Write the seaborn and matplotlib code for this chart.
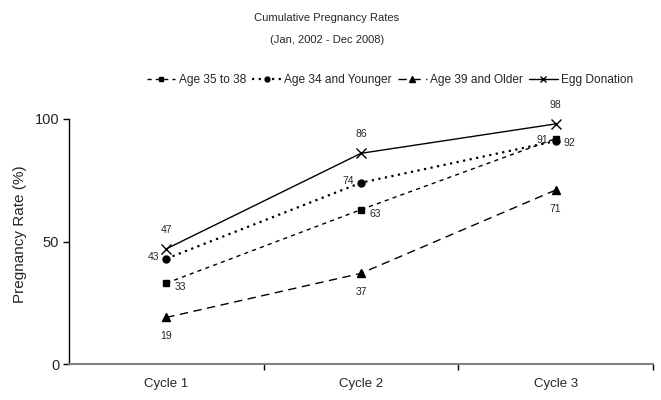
import matplotlib
matplotlib.use("Agg")
import matplotlib.pyplot as plt
from matplotlib import font_manager
from matplotlib.lines import Line2D
import seaborn as sns
import pandas as pd

cycles = ["Cycle 1", "Cycle 2", "Cycle 3"]
age_35_38 = [33, 63, 92]
age_34_younger = [43, 74, 91]
age_39_older = [19, 37, 71]
egg_donation = [47, 86, 98]
y_ticks = [0, 50, 100]

sns.set_theme(style="white")
names = {f.name for f in font_manager.fontManager.ttflist}
fam = "Liberation Sans Narrow" if "Liberation Sans Narrow" in names else "Liberation Sans"
plt.rcParams["font.family"] = [fam, "DejaVu Sans"]

fig = plt.figure(figsize=(6.61, 4.0), dpi=100)
ax = fig.add_axes([69/661, 1-364/400, (653-69)/661, (364-119)/400])

series = [
    ("Age 35 to 38", age_35_38, (0, (3, 3)), "s", 5.0, 1.0, "right"),
    ("Age 34 and Younger", age_34_younger, (0, (1, 2)), "o", 5.0, 1.6, "left"),
    ("Age 39 and Older", age_39_older, (0, (6, 4)), "^", 6.0, 1.0, "below"),
    ("Egg Donation", egg_donation, "-", "x", 6.5, 1.0, "above"),
]

handles = []
for name, vals, ls, mk, ms, lw, pos in series:
    df = pd.DataFrame({"cycle": cycles, "rate": vals})
    sns.lineplot(data=df, x="cycle", y="rate", ax=ax, color="black", linestyle=ls,
                 linewidth=lw, marker=mk, markersize=ms, markeredgecolor="black",
                 markerfacecolor="black", markeredgewidth=1.0, sort=False)
    for i, v in enumerate(vals):
        if pos == "right":
            ax.annotate(str(v), (i, v), xytext=(6, -3), textcoords="offset points",
                        ha="left", va="center", fontsize=7.5)
        elif pos == "left":
            ax.annotate(str(v), (i, v), xytext=(-5, 1), textcoords="offset points",
                        ha="right", va="center", fontsize=7.5)
        elif pos == "below":
            ax.annotate(str(v), (i, v), xytext=(0, -10), textcoords="offset points",
                        ha="center", va="top", fontsize=7.5)
        else:
            ax.annotate(str(v), (i, v), xytext=(0, 10), textcoords="offset points",
                        ha="center", va="bottom", fontsize=7.5)
    handles.append(Line2D([], [], color="black", linestyle=ls, linewidth=lw, marker=mk,
                          markersize=ms-1.5, markeredgecolor="black", markerfacecolor="black"))

ax.set_xlim(-0.5, 2.5)
ax.set_ylim(0, 100)
ax.set_yticks(y_ticks)
ax.set_yticklabels([str(t) for t in y_ticks], fontsize=10.5)
ax.set_xticks(range(len(cycles)))
ax.set_xticklabels(cycles, fontsize=9.5)
ax.set_xticks([0.5, 1.5, 2.5], minor=True)
ax.tick_params(axis="x", which="major", length=0, pad=10)
ax.tick_params(axis="x", which="minor", length=4, width=1, color="black", direction="out", bottom=True)
ax.tick_params(axis="y", length=4, width=1, color="black", direction="out", left=True, pad=3)
ax.set_xlabel("")
ax.set_ylabel("Pregnancy Rate (%)", fontsize=11)
ax.yaxis.set_label_coords(-0.072, 0.53)

for s in ["top", "right"]:
    ax.spines[s].set_visible(False)
ax.spines["left"].set_color("black")
ax.spines["left"].set_linewidth(1.0)
ax.spines["bottom"].set_color("#808080")
ax.spines["bottom"].set_linewidth(1.5)
ax.grid(False)

fig.text(327/661, 1-18/400, "Cumulative Pregnancy Rates", ha="center", va="center", fontsize=8)
fig.text(327/661, 1-40/400, "(Jan, 2002 - Dec 2008)", ha="center", va="center", fontsize=8)

fig.legend(handles, [s[0] for s in series], loc="center", bbox_to_anchor=(390/661, 1-80/400),
           ncol=4, frameon=False, fontsize=8.6, handlelength=2.4, handletextpad=0.3,
           columnspacing=0.5, borderaxespad=0)

fig.savefig("out.png", dpi=100)
